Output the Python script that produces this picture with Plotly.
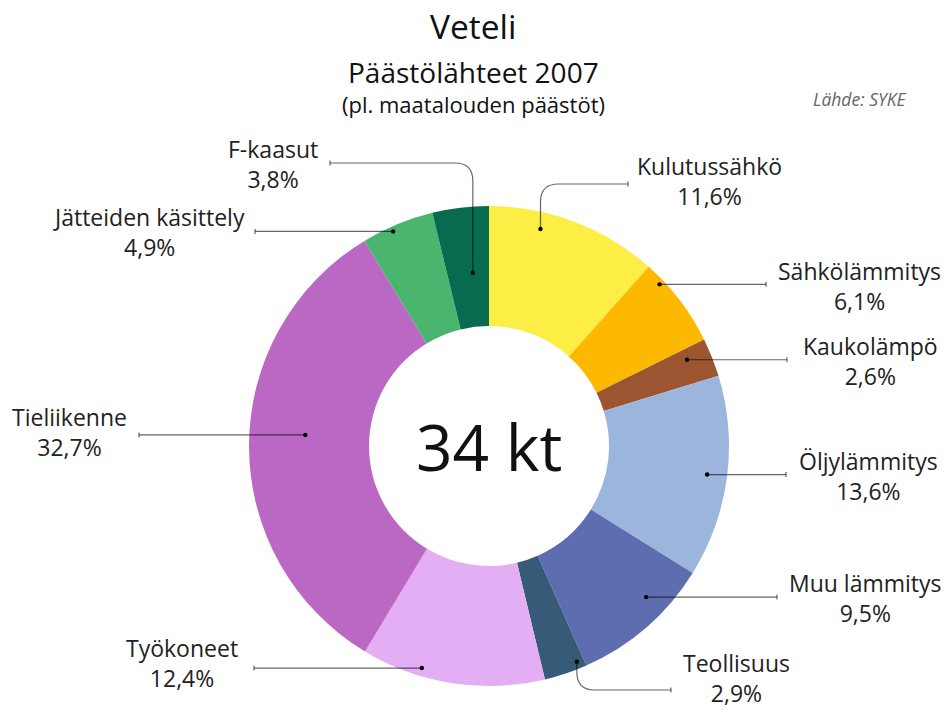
import math
import plotly.graph_objects as go

# ---------------- data ----------------
categories = ["Kulutussähkö", "Sähkölämmitys", "Kaukolämpö", "Öljylämmitys",
              "Muu lämmitys", "Teollisuus", "Työkoneet", "Tieliikenne",
              "Jätteiden käsittely", "F-kaasut"]
shares = [11.6, 6.1, 2.6, 13.6, 9.5, 2.9, 12.4, 32.7, 4.9, 3.8]
colors = ["#FDEE45", "#FDB900", "#9C5530", "#9BB5DD", "#5E6DAF",
          "#375A78", "#E3AEF3", "#BA68C4", "#4AB56F", "#086B50"]
total_label = "34 kt"
title_lines = ["Veteli", "Päästölähteet 2007", "(pl. maatalouden päästöt)"]
source_label = "Lähde: SYKE"

# ---------------- layout (pixels) ----------------
W, H = 947, 712
CX, CY, R = 489, 446, 240
FONT = "Open Sans"
TXT = "#222222"

# per-slice leader layout: dot position inside slice (fraction along slice, radius px),
# leader type, end x, elbow y, label block centre x / y
leaders = [
    dict(frac=0.32, r=223, kind="elbow", end_x=628, elbow_y=184, lx=709, ly=181),
    dict(frac=0.22, r=235, kind="h", end_x=766, lx=859, ly=286),
    dict(frac=0.30, r=216, kind="h", end_x=787, lx=870, ly=361),
    dict(frac=0.50, r=220, kind="h", end_x=786, lx=868, ly=476),
    dict(frac=0.35, r=218, kind="h", end_x=777, lx=865, ly=598),
    dict(frac=0.17, r=233, kind="elbow", end_x=671, elbow_y=690, lx=736, ly=678),
    dict(frac=0.68, r=232, kind="h", end_x=254, lx=182, ly=663),
    dict(frac=0.53, r=184, kind="h", end_x=139, lx=69, ly=432),
    dict(frac=0.41, r=235, kind="h", end_x=255, lx=149, ly=232),
    dict(frac=0.61, r=174, kind="elbow", end_x=330, elbow_y=163, lx=273, ly=164),
]


def px(x):
    return x / W


def py(y):
    return 1 - y / H


fig = go.Figure()
fig.add_trace(go.Pie(
    labels=categories,
    values=shares,
    marker=dict(colors=colors, line=dict(width=0)),
    hole=0.5,
    sort=False,
    direction="clockwise",
    rotation=0,
    textinfo="none",
    hoverinfo="label+percent",
    showlegend=False,
    domain=dict(x=[(CX - R) / W, (CX + R) / W], y=[py(CY + R), py(CY - R)]),
))

shapes = []
annotations = []
LINE = dict(color="rgba(0,0,0,0.6)", width=1.2)
LABEL_SIZE = 23
total = sum(shares)
cum = 0.0
for cat, v, lay in zip(categories, shares, leaders):
    ang = (cum + lay["frac"] * v) / total * 2 * math.pi
    cum += v
    dx = CX + lay["r"] * math.sin(ang)
    dy = CY - lay["r"] * math.cos(ang)
    ex = lay["end_x"]
    if lay["kind"] == "h":
        ey = dy
        path = f"M {px(dx)} {py(dy)} L {px(ex)} {py(ey)}"
    else:
        ey = lay["elbow_y"]
        rr = 18
        sy = 1 if ey > dy else -1
        sx = 1 if ex > dx else -1
        path = (f"M {px(dx)} {py(dy)} L {px(dx)} {py(ey - sy * rr)} "
                f"Q {px(dx)} {py(ey)} {px(dx + sx * rr)} {py(ey)} "
                f"L {px(ex)} {py(ey)}")
    shapes.append(dict(type="path", xref="paper", yref="paper", path=path, line=LINE))
    # end tick
    shapes.append(dict(type="line", xref="paper", yref="paper",
                       x0=px(ex), x1=px(ex), y0=py(ey - 2.5), y1=py(ey + 2.5), line=LINE))
    # dot
    shapes.append(dict(type="circle", xref="paper", yref="paper",
                       x0=px(dx - 2.2), x1=px(dx + 2.2), y0=py(dy + 2.2), y1=py(dy - 2.2),
                       fillcolor="#000000", line=dict(width=0)))
    val_txt = f"{v:.1f}".replace(".", ",") + "%"
    annotations.append(dict(x=px(lay["lx"]), y=py(lay["ly"]), xref="paper", yref="paper",
                            text=f"{cat}<br>{val_txt}", showarrow=False,
                            xanchor="center", yanchor="middle", align="center", borderpad=0,
                            font=dict(family=FONT, size=LABEL_SIZE, color=TXT)))

# centre total
annotations.append(dict(x=px(CX), y=py(CY), xref="paper", yref="paper", text=total_label,
                        showarrow=False, xanchor="center", yanchor="middle",
                        font=dict(family=FONT, size=64, color="#111111")))
# titles
for txt, yy, sz in zip(title_lines, [26, 72, 104], [33.5, 28, 22]):
    annotations.append(dict(x=px(473), y=py(yy), xref="paper", yref="paper", text=txt,
                            showarrow=False, xanchor="center", yanchor="middle", borderpad=0,
                            font=dict(family=FONT, size=sz, color="#111111")))
annotations.append(dict(x=px(909), y=py(99), xref="paper", yref="paper",
                        text=f"<i>{source_label}</i>", showarrow=False,
                        xanchor="right", yanchor="middle",
                        font=dict(family=FONT, size=17.5, color="#666666")))

fig.update_layout(
    width=W, height=H,
    margin=dict(l=0, r=0, t=0, b=0),
    paper_bgcolor="white", plot_bgcolor="white",
    shapes=shapes, annotations=annotations,
)

fig.write_html("out.html", config={"displayModeBar": False},
               post_script="document.body.style.margin='0';document.body.style.overflow='hidden';")
